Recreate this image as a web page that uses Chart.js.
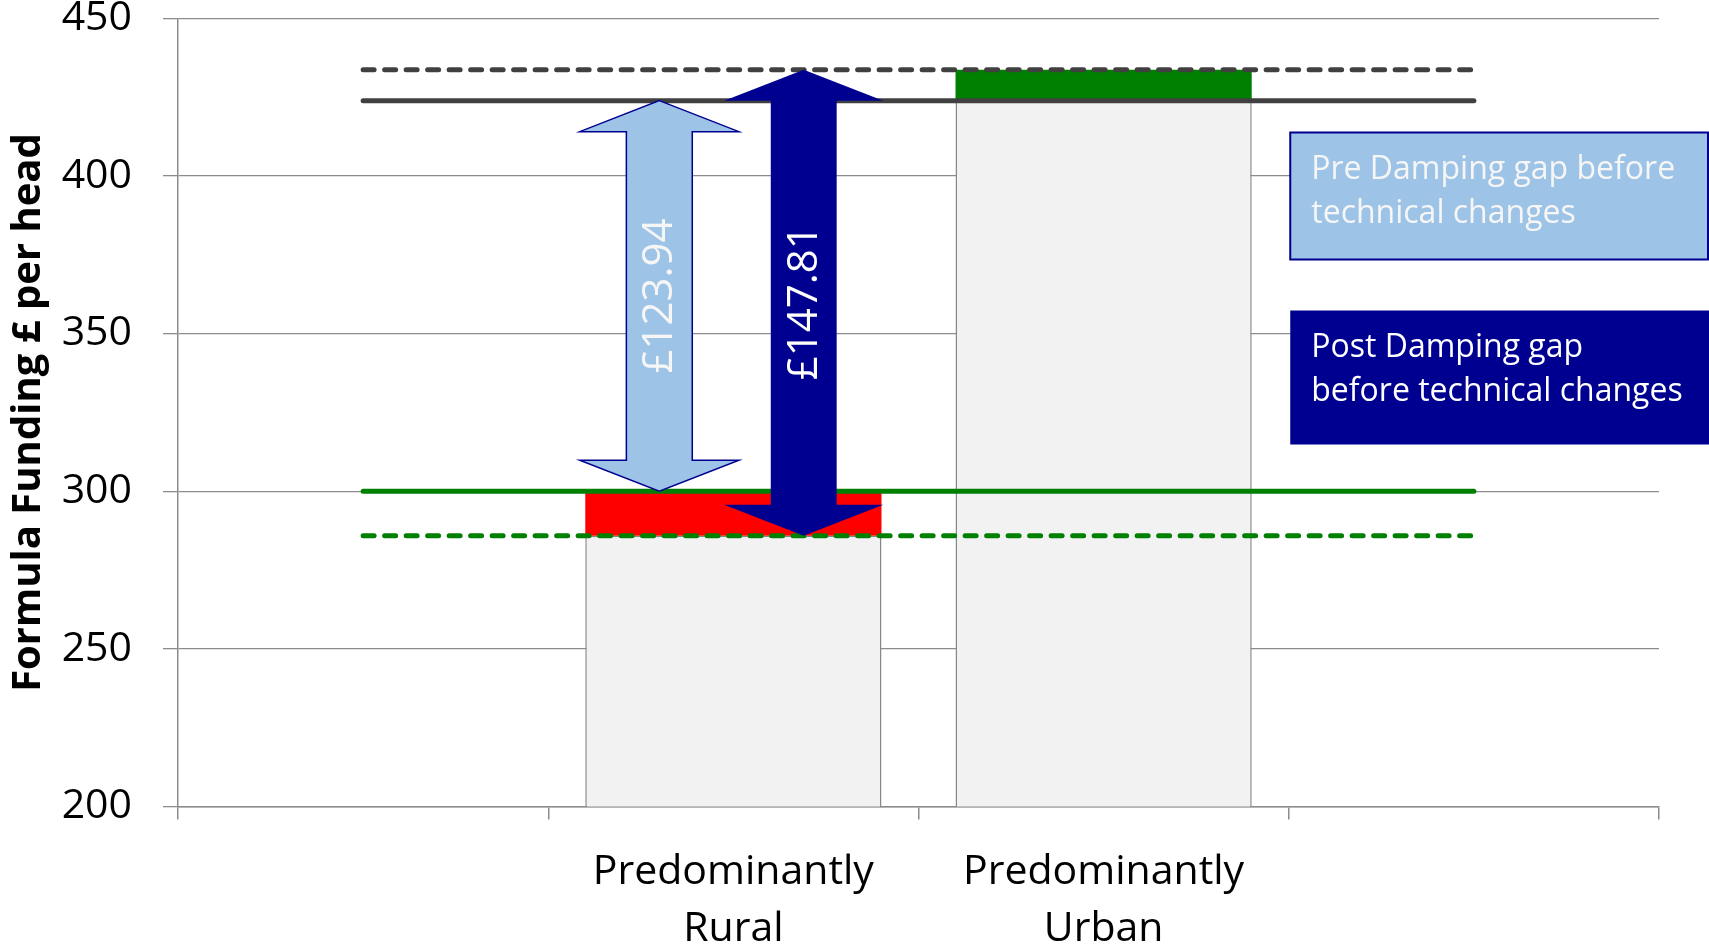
<!DOCTYPE html>
<html>
<head>
<meta charset="utf-8">
<title>Formula Funding per head</title>
<script src="https://cdn.jsdelivr.net/npm/chart.js@4/dist/chart.umd.min.js"></script>
<style>
  html, body { margin: 0; padding: 0; background: #ffffff; }
  #chart { display: block; }
</style>
</head>
<body>
<canvas id="chart" width="1709" height="950"></canvas>
<script>
// Category slots: empty slots either side keep the reference lines wide
const categories = ['', ['Predominantly', 'Rural'], ['Predominantly', 'Urban'], ''];

// Formula funding £ per head: [rural, urban]
const preDamping = [300.00, 423.94];
const postDamping = [285.93, 433.74];

// Value axis
const yMin = 200;
const yMax = 450;
const yStep = 50;

// Gap descriptions shown in the key boxes
const gapKeyLines = [['Pre Damping gap before', 'technical changes'], ['Post Damping gap', 'before technical changes']];

const FONT = "'Open Sans', 'Noto Sans', sans-serif";
const NAVY = '#000090';
const LIGHT_BLUE = '#9dc3e6';
const GREEN = '#008000';
const DARK_GREY = '#404040';
const AXIS_GREY = '#8c8c8c';

const fmt = v => '£' + v.toFixed(2);
const flat = v => categories.map(() => v);

// Gray base bar: up to the lower of the two figures in each region
const baseBars = [null, postDamping[0], preDamping[1], null];
// Change caused by damping: loss (rural) and gain (urban)
const lossBars = [null, [postDamping[0], preDamping[0]], null, null];
const gainBars = [null, null, [preDamping[1], postDamping[1]], null];

function arrowPath(ctx, cx, yTop, yBot, shaftW, headW, headH) {
  ctx.beginPath();
  ctx.moveTo(cx, yTop);
  ctx.lineTo(cx + headW / 2, yTop + headH);
  ctx.lineTo(cx + shaftW / 2, yTop + headH);
  ctx.lineTo(cx + shaftW / 2, yBot - headH);
  ctx.lineTo(cx + headW / 2, yBot - headH);
  ctx.lineTo(cx, yBot);
  ctx.lineTo(cx - headW / 2, yBot - headH);
  ctx.lineTo(cx - shaftW / 2, yBot - headH);
  ctx.lineTo(cx - shaftW / 2, yTop + headH);
  ctx.lineTo(cx - headW / 2, yTop + headH);
  ctx.closePath();
}

// Double-headed gap arrows with their rotated value labels
const gapArrows = {
  id: 'gapArrows',
  afterDatasetsDraw(chart) {
    const ctx = chart.ctx;
    const x = chart.scales.x;
    const y = chart.scales.y;
    const cw = x.getPixelForValue(2) - x.getPixelForValue(1);
    const c = x.getPixelForValue(1);
    const arrows = [
      { cx: c - 0.2 * cw, lo: preDamping[0], hi: preDamping[1], fill: LIGHT_BLUE, stroke: NAVY, text: '#f6f6f6' },
      { cx: c + 0.19 * cw, lo: postDamping[0], hi: postDamping[1], fill: NAVY, stroke: null, text: '#ffffff' }
    ];
    arrows.forEach(a => {
      const yTop = y.getPixelForValue(a.hi);
      const yBot = y.getPixelForValue(a.lo);
      ctx.save();
      arrowPath(ctx, a.cx, yTop, yBot, 0.178 * cw, 0.43 * cw, 31);
      ctx.fillStyle = a.fill;
      ctx.fill();
      if (a.stroke) {
        ctx.lineWidth = 1.5;
        ctx.strokeStyle = a.stroke;
        ctx.stroke();
      }
      ctx.translate(a.cx + 1, (yTop + yBot) / 2);
      ctx.rotate(-Math.PI / 2);
      ctx.font = '42px ' + FONT;
      ctx.fillStyle = a.text;
      ctx.textAlign = 'center';
      ctx.textBaseline = 'middle';
      ctx.fillText(fmt(a.hi - a.lo), 0, 0);
      ctx.restore();
    });
  }
};

// Key boxes describing the two arrows
const gapKey = {
  id: 'gapKey',
  afterDraw(chart) {
    const ctx = chart.ctx;
    const x = chart.scales.x;
    const area = chart.chartArea;
    const left = (x.getPixelForValue(2) + x.getPixelForValue(3)) / 2 + 1.5;
    const boxes = [
      { top: area.top + 114, h: 127, fill: LIGHT_BLUE, stroke: NAVY, text: '#f6f6f6', lines: gapKeyLines[0] },
      { top: area.top + 292, h: 134, fill: NAVY, stroke: null, text: '#ffffff', lines: gapKeyLines[1] }
    ];
    ctx.save();
    boxes.forEach(b => {
      ctx.fillStyle = b.fill;
      ctx.fillRect(left, b.top, chart.width - left + 5, b.h);
      if (b.stroke) {
        ctx.lineWidth = 2;
        ctx.strokeStyle = b.stroke;
        ctx.strokeRect(left, b.top, chart.width - left - 1, b.h);
      }
      ctx.font = '32px ' + FONT;
      ctx.fillStyle = b.text;
      ctx.textAlign = 'left';
      ctx.textBaseline = 'alphabetic';
      b.lines.forEach((ln, i) => ctx.fillText(ln, left + 21, b.top + 46 + i * 44.4));
    });
    ctx.restore();
  }
};

new Chart(document.getElementById('chart'), {
  data: {
    labels: categories,
    datasets: [
      { type: 'line', label: 'Post damping urban', data: flat(postDamping[1]), borderColor: DARK_GREY, borderWidth: 5, borderDash: [11, 10.5], borderCapStyle: 'round', pointRadius: 0, order: 0 },
      { type: 'line', label: 'Pre damping urban', data: flat(preDamping[1]), borderColor: DARK_GREY, borderWidth: 5, borderCapStyle: 'round', pointRadius: 0, order: 0 },
      { type: 'line', label: 'Pre damping rural', data: flat(preDamping[0]), borderColor: GREEN, borderWidth: 5, borderCapStyle: 'round', pointRadius: 0, order: 0 },
      { type: 'line', label: 'Post damping rural', data: flat(postDamping[0]), borderColor: GREEN, borderWidth: 5, borderDash: [11, 10.5], borderCapStyle: 'round', pointRadius: 0, order: 0 },
      { type: 'bar', label: 'Damping loss', data: lossBars, backgroundColor: '#ff0000', borderWidth: 0, grouped: false, barPercentage: 0.8, categoryPercentage: 1.0, order: 1 },
      { type: 'bar', label: 'Damping gain', data: gainBars, backgroundColor: GREEN, borderWidth: 0, grouped: false, barPercentage: 0.8, categoryPercentage: 1.0, order: 1 },
      { type: 'bar', label: 'Funding', data: baseBars, backgroundColor: '#f2f2f2', borderColor: '#888888', borderWidth: 1.5, grouped: false, barPercentage: 0.8, categoryPercentage: 1.0, order: 2 }
    ]
  },
  options: {
    responsive: false,
    animation: false,
    devicePixelRatio: 1,
    layout: { padding: { top: 18.5, right: 50, left: 0, bottom: 0 } },
    plugins: { legend: { display: false }, tooltip: { enabled: false } },
    scales: {
      x: {
        type: 'category',
        offset: true,
        grid: { offset: true, drawOnChartArea: false, drawTicks: true, tickLength: 13, color: AXIS_GREY, lineWidth: 1.5 },
        border: { display: true, color: AXIS_GREY, width: 1.5 },
        ticks: { color: '#000000', font: { family: FONT, size: 41, lineHeight: 1.38 }, padding: 25, maxRotation: 0, autoSkip: false },
        afterFit(scale) { scale.height = 143.5; }
      },
      y: {
        min: yMin,
        max: yMax,
        grid: { color: AXIS_GREY, lineWidth: 1.3, tickLength: 15 },
        border: { display: true, color: AXIS_GREY, width: 1.5 },
        ticks: { stepSize: yStep, color: '#000000', font: { family: FONT, size: 41, lineHeight: 0.9 }, padding: 31 },
        title: { display: true, text: 'Formula Funding £ per head', color: '#000000', font: { family: FONT, size: 40, weight: 'bold', lineHeight: 1.2 }, padding: { top: 5, bottom: 0 } },
        afterFit(scale) {
          scale.width = 178;
          scale.paddingTop = 0;
          scale.paddingBottom = 0;
        }
      }
    }
  },
  plugins: [gapArrows, gapKey]
});
</script>
</body>
</html>
